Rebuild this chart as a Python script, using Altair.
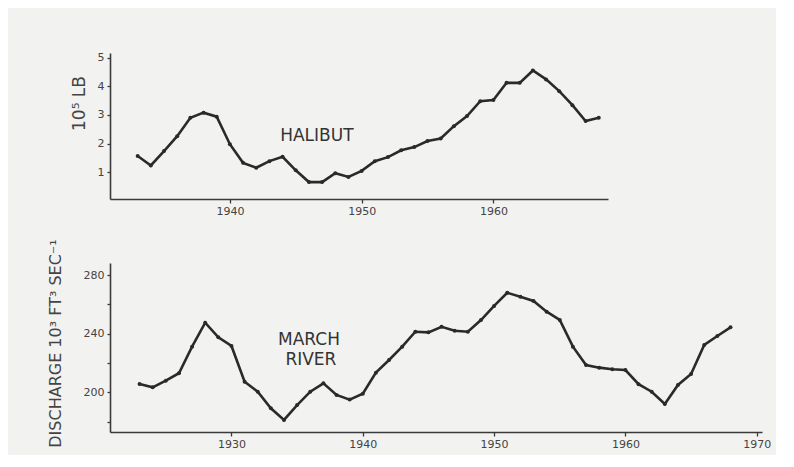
import altair as alt
import pandas as pd

# ---- data ----
halibut_years = list(range(1933, 1969))
halibut_values = [1.57, 1.24, 1.74, 2.26, 2.90, 3.08, 2.94, 1.98, 1.33, 1.16,
                  1.39, 1.54, 1.07, 0.66, 0.66, 0.97, 0.84, 1.05, 1.39, 1.53,
                  1.77, 1.88, 2.09, 2.18, 2.61, 2.96, 3.48, 3.52, 4.12, 4.12,
                  4.55, 4.24, 3.83, 3.34, 2.79, 2.90]

river_years = list(range(1923, 1969))
river_values = [205.7, 203.4, 207.9, 213.0, 231.1, 247.5, 237.5, 231.6, 207.2, 200.4,
                189.1, 181.1, 191.3, 200.4, 206.1, 198.2, 195.0, 199.0, 213.4, 222.0,
                231.1, 241.3, 240.9, 244.7, 242.0, 241.3, 249.3, 258.9, 267.9, 265.2,
                262.3, 255.0, 249.3, 231.1, 218.6, 216.8, 215.7, 215.2, 205.5, 200.4,
                192.0, 205.0, 212.5, 232.3, 238.4, 244.3]

top_x_ticks = [1940, 1950, 1960]
top_y_ticks = [1, 2, 3, 4, 5]
bottom_x_ticks = [1930, 1940, 1950, 1960, 1970]
bottom_y_ticks = [180, 200, 220, 240, 260, 280]

top_label_text = ["HALIBUT"]
top_label_year = [1946.6]
top_label_value = [2.26]

bottom_label_text = ["MARCH", "RIVER"]
bottom_label_year = [1935.9, 1936.05]
bottom_label_value = [236.0, 221.7]

INK = "#2a2a2a"
FONT = "DejaVu Sans"

hal = pd.DataFrame({"year": halibut_years, "value": halibut_values})
riv = pd.DataFrame({"year": river_years, "value": river_values})
hal_lab = pd.DataFrame({"text": top_label_text, "year": top_label_year, "value": top_label_value})
riv_lab = pd.DataFrame({"text": bottom_label_text, "year": bottom_label_year, "value": bottom_label_value})

top_x = alt.X("year:Q", scale=alt.Scale(domain=[1930.9, 1968.7], nice=False, zero=False),
              axis=alt.Axis(values=top_x_ticks, format="d", title=None, grid=False,
                            tickSize=4, labelPadding=2, labelOverlap=False))
top_y = alt.Y("value:Q", scale=alt.Scale(domain=[0.07, 5.16], nice=False, zero=False),
              axis=alt.Axis(values=top_y_ticks, format="d", title="10⁵ LB", grid=False,
                            tickSize=3, labelPadding=3, labelOverlap=False,
                            titleX=-31, titleY=50, titleFontSize=17,
                            titleAlign="center", titleBaseline="middle", titleAngle=270))

top_line = alt.Chart(hal).mark_line(color=INK, strokeWidth=2.6).encode(x=top_x, y=top_y)
top_pts = alt.Chart(hal).mark_point(filled=True, color=INK, size=16, opacity=1).encode(x=top_x, y=top_y)
top_txt = alt.Chart(hal_lab).mark_text(font=FONT, fontSize=17, color="#333333").encode(
    x=top_x, y=top_y, text="text:N")

top = alt.layer(top_line, top_pts, top_txt).properties(width=498, height=146)

bot_x = alt.X("year:Q", scale=alt.Scale(domain=[1920.75, 1970.4], nice=False, zero=False),
              axis=alt.Axis(values=bottom_x_ticks, format="d", title=None, grid=False,
                            tickSize=4, labelPadding=2, labelOverlap=False))
bot_y = alt.Y("value:Q", scale=alt.Scale(domain=[172.9, 288.2], nice=False, zero=False),
              axis=alt.Axis(values=bottom_y_ticks, format="d", title="DISCHARGE  10³ FT³ SEC⁻¹",
                            grid=False, tickSize=3, labelPadding=3, labelOverlap=False,
                            labelExpr="datum.value % 40 == 0 ? datum.label : ''",
                            titleX=-55, titleY=80, titleFontSize=16, titleAlign="center",
                            titleBaseline="middle", titleAngle=270))

bot_line = alt.Chart(riv).mark_line(color=INK, strokeWidth=2.6).encode(x=bot_x, y=bot_y)
bot_pts = alt.Chart(riv).mark_point(filled=True, color=INK, size=16, opacity=1).encode(x=bot_x, y=bot_y)
bot_txt = alt.Chart(riv_lab).mark_text(font=FONT, fontSize=17, color="#333333").encode(
    x=bot_x, y=bot_y, text="text:N")

bottom = alt.layer(bot_line, bot_pts, bot_txt).properties(width=652, height=169)

chart = alt.vconcat(top, bottom, spacing=20).properties(
    padding={"left": 38, "top": 43, "right": 5, "bottom": 5},
    background="#f2f2f0",
).configure_view(stroke=None).configure_axis(
    domainColor="#3a3a3a", domainWidth=1.6, tickColor="#3a3a3a", tickWidth=1.3,
    labelFont=FONT, labelFontSize=11, labelColor="#444444", labelOverlap=False,
    titleFont=FONT, titleFontSize=15, titleFontWeight="normal", titleColor="#444444",
)

chart.save("out.html", embed_options={"renderer": "svg", "actions": False})
